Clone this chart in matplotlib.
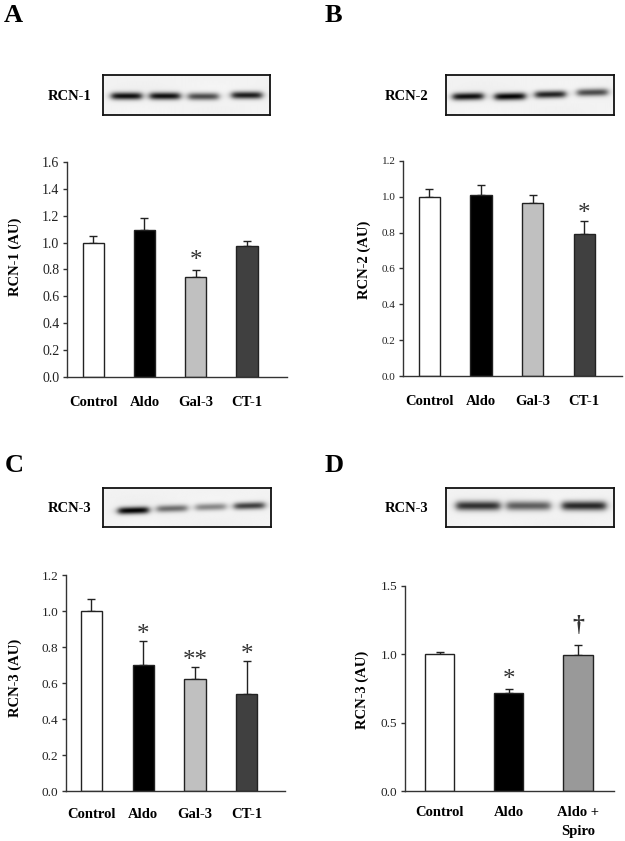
import numpy as np
import matplotlib
matplotlib.use("Agg")
import matplotlib.pyplot as plt

plt.rcParams['font.family'] = ['Liberation Serif', 'DejaVu Serif']

# ---------------- data ----------------
cats_abc = ['Control', 'Aldo', 'Gal-3', 'CT-1']
cats_d = ['Control', 'Aldo', 'Aldo +\nSpiro']

rcn1_mean = [1.00, 1.095, 0.745, 0.975]
rcn1_err = [0.05, 0.09, 0.05, 0.04]
rcn1_sig = ['', '', '*', '']

rcn2_mean = [1.00, 1.01, 0.965, 0.79]
rcn2_err = [0.045, 0.055, 0.045, 0.075]
rcn2_sig = ['', '', '', '*']

rcn3_mean = [1.00, 0.70, 0.62, 0.54]
rcn3_err = [0.065, 0.135, 0.07, 0.18]
rcn3_sig = ['', '*', '**', '*']

rcn3d_mean = [1.00, 0.72, 0.995]
rcn3d_err = [0.02, 0.03, 0.07]
rcn3d_sig = ['', '*', '\u2020']

colors_abc = ['#ffffff', '#000000', '#c0c0c0', '#404040']
colors_d = ['#ffffff', '#000000', '#999999']

# western blot band descriptions (lane centre fraction, band intensity, band y fraction)
blotA_lanes = [0.14, 0.37, 0.60, 0.86]
blotA_int = [0.95, 0.95, 0.70, 0.90]
blotA_y = [0.48, 0.48, 0.47, 0.50]

blotB_lanes = [0.13, 0.38, 0.62, 0.87]
blotB_int = [0.95, 1.00, 0.88, 0.70]
blotB_y = [0.47, 0.47, 0.52, 0.57]

blotC_lanes = [0.18, 0.41, 0.64, 0.87]
blotC_int = [1.00, 0.55, 0.45, 0.75]
blotC_y = [0.43, 0.48, 0.52, 0.55]

blotD_lanes = [0.19, 0.49, 0.82]
blotD_int = [0.80, 0.62, 0.85]
blotD_y = [0.55, 0.55, 0.55]

W, H = 625, 841
fig = plt.figure(figsize=(W / 100, H / 100), dpi=100)


def px_axes(x0, y0, x1, y1):
    return fig.add_axes([x0 / W, 1 - y1 / H, (x1 - x0) / W, (y1 - y0) / H])


def draw_blot(ax, lanes, intens, ys, half_w, thick, tilt):
    nh, nw = 80, 340
    yy, xx = np.mgrid[0:nh, 0:nw]
    xf = xx / nw
    yf = 1 - yy / nh
    img = np.full((nh, nw), 0.95)
    img += 0.01 * np.sin(xf * 7) * np.cos(yf * 5)
    for c, a, y in zip(lanes, intens, ys):
        px = 1 / (1 + np.exp((np.abs(xf - c) - half_w) / 0.012))
        yc = y + tilt * (xf - c)
        py = np.exp(-0.5 * ((yf - yc) / thick) ** 2)
        img -= a * 0.94 * px * py
    ax.imshow(np.clip(img, 0, 1), cmap='gray', vmin=0, vmax=1, extent=[0, 1, 0, 1],
              aspect='auto', interpolation='bilinear')
    ax.set_xticks([])
    ax.set_yticks([])
    for s in ax.spines.values():
        s.set_linewidth(1.3)
        s.set_color('#111111')


def draw_bars(ax, cats, mean, err, colors, sig, ymax, yticks, tick_fs, xlim, width,
              cat_pad, star_off, dagger_off=20):
    x = np.arange(len(cats))
    ax.bar(x, mean, width=width, color=colors, edgecolor='#222222', linewidth=1.0, zorder=2)
    ax.errorbar(x, mean, yerr=[np.zeros(len(err)), err], fmt='none', ecolor='#222222',
                elinewidth=1.0, capsize=2.8, capthick=1.0, zorder=1)
    ax.set_xlim(*xlim)
    ax.set_ylim(0, ymax)
    ax.set_yticks(yticks)
    ax.set_yticklabels(['%.1f' % t for t in yticks], fontsize=tick_fs, color='#222222')
    ax.set_xticks(x)
    ax.set_xticklabels(cats, fontsize=10.5, fontweight='bold', linespacing=1.6)
    ax.tick_params(axis='x', length=0, pad=cat_pad)
    ax.tick_params(axis='y', length=3, width=1, color='#333333', pad=2.5, direction='out')
    for s in ['top', 'right']:
        ax.spines[s].set_visible(False)
    for s in ['left', 'bottom']:
        ax.spines[s].set_color('#333333')
        ax.spines[s].set_linewidth(1.0)
    for xi, m, e, s in zip(x, mean, err, sig):
        if not s:
            continue
        if s == '\u2020':
            ax.annotate(s, (xi, m + e), xytext=(0, dagger_off), textcoords='offset pixels',
                        ha='center', va='center', fontsize=17, fontweight='bold',
                        color='#333333')
        else:
            ax.annotate(s, (xi, m + e), xytext=(0, star_off), textcoords='offset pixels',
                        ha='center', va='center', fontsize=18, color='#333333')


# ---------------- Panel A ----------------
axA = px_axes(67, 162, 287, 377)
draw_bars(axA, cats_abc, rcn1_mean, rcn1_err, colors_abc, rcn1_sig, 1.6,
          np.arange(0, 1.61, 0.2), 10, (-0.51, 3.78), 0.41, 14, 9)
bA = px_axes(103, 75, 270, 115)
draw_blot(bA, blotA_lanes, blotA_int, blotA_y, 0.09, 0.065, 0.0)

# ---------------- Panel B ----------------
axB = px_axes(403, 161, 622, 376)
draw_bars(axB, cats_abc, rcn2_mean, rcn2_err, colors_abc, rcn2_sig, 1.2,
          np.arange(0, 1.21, 0.2), 8, (-0.51, 3.73), 0.41, 14, 7)
bB = px_axes(446, 75, 614, 115)
draw_blot(bB, blotB_lanes, blotB_int, blotB_y, 0.09, 0.065, 0.08)

# ---------------- Panel C ----------------
axC = px_axes(66, 575, 285, 791)
draw_bars(axC, cats_abc, rcn3_mean, rcn3_err, colors_abc, rcn3_sig, 1.2,
          np.arange(0, 1.21, 0.2), 9.5, (-0.49, 3.74), 0.41, 12, 6)
bC = px_axes(103, 488, 271, 527)
draw_blot(bC, blotC_lanes, blotC_int, blotC_y, 0.09, 0.065, 0.12)

# ---------------- Panel D ----------------
axD = px_axes(405, 586, 614, 791)
draw_bars(axD, cats_d, rcn3d_mean, rcn3d_err, colors_d, rcn3d_sig, 1.5,
          [0.0, 0.5, 1.0, 1.5], 9.5, (-0.5, 2.52), 0.42, 11, 9, 20)
bD = px_axes(446, 488, 614, 527)
draw_blot(bD, blotD_lanes, blotD_int, blotD_y, 0.13, 0.085, 0.0)

# ---------------- Texts ----------------
def ftext(x, y, s, **kw):
    fig.text(x / W, 1 - y / H, s, **kw)

for (x, y, s) in [(13, 15, 'A'), (333, 15, 'B'), (14, 465, 'C'), (334, 465, 'D')]:
    ftext(x, y, s, fontsize=19, fontweight='bold', ha='center', va='center')

for (x, y, s) in [(70, 96, 'RCN-1'), (407, 97, 'RCN-2'), (70, 508, 'RCN-3'), (407, 508, 'RCN-3')]:
    ftext(x, y, s, fontsize=10.5, fontweight='bold', ha='center', va='center')

for (x, y, s) in [(15, 257, 'RCN-1 (AU)'), (364, 260, 'RCN-2 (AU)'),
                  (15, 678, 'RCN-3 (AU)'), (362, 690, 'RCN-3 (AU)')]:
    ftext(x, y, s, fontsize=10.5, fontweight='bold', ha='center', va='center', rotation=90)

fig.savefig('out.png', dpi=100)
